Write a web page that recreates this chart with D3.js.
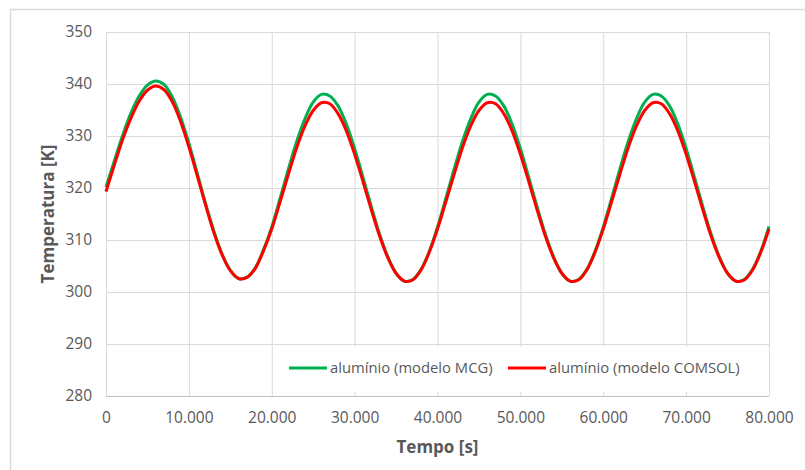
<!DOCTYPE html>
<html>
<head>
<meta charset="utf-8">
<script src="https://cdn.jsdelivr.net/npm/d3@7"></script>
<style>
  body { margin: 0; background: #fff; }
  text { font-family: "Open Sans", "Noto Sans", sans-serif; }
</style>
</head>
<body>
<div id="chart"></div>
<script>
// tempo [s]
const tempo = [
  0, 1000, 2000, 3000, 4000, 5000, 6000, 7000, 8000, 9000,
  10000, 11000, 12000, 13000, 14000, 15000, 16000, 17000, 18000, 19000,
  20000, 21000, 22000, 23000, 24000, 25000, 26000, 27000, 28000, 29000,
  30000, 31000, 32000, 33000, 34000, 35000, 36000, 37000, 38000, 39000,
  40000, 41000, 42000, 43000, 44000, 45000, 46000, 47000, 48000, 49000,
  50000, 51000, 52000, 53000, 54000, 55000, 56000, 57000, 58000, 59000,
  60000, 61000, 62000, 63000, 64000, 65000, 66000, 67000, 68000, 69000,
  70000, 71000, 72000, 73000, 74000, 75000, 76000, 77000, 78000, 79000,
  80000
];

// alumínio (modelo MCG)
const mcg = [
  320.2, 325.2, 330.1, 334.4, 337.7, 339.8, 340.6, 339.9, 337.5, 333.6,
  328.6, 322.9, 317.1, 311.8, 307.3, 304.2, 302.6, 302.8, 304.6, 308.1,
  312.5, 318.0, 323.6, 328.9, 333.3, 336.5, 338.0, 337.7, 335.8, 332.3,
  327.6, 322.1, 316.5, 311.2, 306.8, 303.6, 302.1, 302.4, 304.3, 307.8,
  312.5, 318.0, 323.6, 328.9, 333.3, 336.5, 338.0, 337.7, 335.8, 332.3,
  327.6, 322.1, 316.5, 311.2, 306.8, 303.6, 302.1, 302.4, 304.3, 307.8,
  312.5, 318.0, 323.6, 328.9, 333.3, 336.5, 338.0, 337.7, 335.8, 332.3,
  327.6, 322.1, 316.5, 311.2, 306.8, 303.6, 302.1, 302.4, 304.3, 307.8,
  312.6
];

// alumínio (modelo COMSOL)
const comsol = [
  319.3, 324.4, 329.3, 333.4, 336.7, 338.8, 339.6, 338.9, 336.6, 332.8,
  327.9, 322.4, 316.8, 311.5, 307.2, 304.1, 302.6, 302.8, 304.5, 307.9,
  312.1, 317.3, 322.6, 327.7, 331.9, 334.9, 336.4, 336.2, 334.3, 331.0,
  326.5, 321.3, 315.9, 310.8, 306.6, 303.6, 302.1, 302.3, 304.2, 307.6,
  312.1, 317.3, 322.6, 327.7, 331.9, 334.9, 336.4, 336.2, 334.3, 331.0,
  326.5, 321.3, 315.9, 310.8, 306.6, 303.6, 302.1, 302.3, 304.2, 307.6,
  312.1, 317.3, 322.6, 327.7, 331.9, 334.9, 336.4, 336.2, 334.3, 331.0,
  326.5, 321.3, 315.9, 310.8, 306.6, 303.6, 302.1, 302.3, 304.2, 307.6,
  312.1
];

const xTicks = [0, 10000, 20000, 30000, 40000, 50000, 60000, 70000, 80000];
const yTicks = [280, 290, 300, 310, 320, 330, 340, 350];

const series = [
  { name: "alumínio (modelo MCG)", values: mcg, color: "#00b050" },
  { name: "alumínio (modelo COMSOL)", values: comsol, color: "#ff0000" }
];

const width = 805;
const height = 470;
const margin = { top: 32, right: 36, bottom: 74, left: 106 };
const innerW = width - margin.left - margin.right;
const innerH = height - margin.top - margin.bottom;

// separador de milhares com ponto (10.000)
const fmt = d3.formatLocale({ decimal: ",", thousands: ".", grouping: [3], currency: ["R$", ""] }).format(",");

const svg = d3.select("#chart")
  .append("svg")
  .attr("width", width)
  .attr("height", height);

svg.append("rect").attr("width", width).attr("height", height).attr("fill", "#fff");

// borda do gráfico
svg.append("rect")
  .attr("x", 10.5).attr("y", 9.5)
  .attr("width", width).attr("height", height)
  .attr("fill", "none")
  .attr("stroke", "#d9d9d9")
  .attr("stroke-width", 1.5);

const g = svg.append("g").attr("transform", `translate(${margin.left},${margin.top})`);

const x = d3.scaleLinear().domain([0, 80000]).range([0, innerW]);
const y = d3.scaleLinear().domain([280, 350]).range([innerH, 0]);

// grelha
g.append("g")
  .call(d3.axisLeft(y).tickValues(yTicks).tickSize(-innerW).tickFormat(""))
  .call((s) => s.select(".domain").remove())
  .selectAll("line").attr("stroke", "#d9d9d9");

g.append("g")
  .attr("transform", `translate(0,${innerH})`)
  .call(d3.axisBottom(x).tickValues(xTicks).tickSize(-innerH).tickFormat(""))
  .call((s) => s.select(".domain").remove())
  .selectAll("line").attr("stroke", "#d9d9d9");

// eixo x
g.append("line")
  .attr("x1", 0).attr("x2", innerW)
  .attr("y1", innerH + 0.5).attr("y2", innerH + 0.5)
  .attr("stroke", "#bfbfbf");

const yAxis = g.append("g")
  .call(d3.axisLeft(y).tickValues(yTicks).tickSize(0).tickPadding(14).tickFormat(d3.format("d")));
yAxis.select(".domain").remove();
yAxis.selectAll("text").style("font-size", "15.5px").style("fill", "#595959")
  .style("font-family", "'Open Sans', sans-serif");

const xAxis = g.append("g")
  .attr("transform", `translate(0,${innerH})`)
  .call(d3.axisBottom(x).tickValues(xTicks).tickSize(0).tickPadding(16).tickFormat(fmt));
xAxis.select(".domain").remove();
xAxis.selectAll("text").style("font-size", "15.5px").style("fill", "#595959")
  .style("font-family", "'Open Sans', sans-serif");

// legenda (fundo branco por cima da grelha)
const legend = g.append("g");
legend.append("rect")
  .attr("x", 169).attr("y", 315)
  .attr("width", innerW - 170).attr("height", 45)
  .attr("fill", "#fff");

const line = d3.line()
  .x((d, i) => x(tempo[i]))
  .y((d) => y(d))
  .curve(d3.curveCatmullRom);

series.forEach((s) => {
  g.append("path")
    .datum(s.values)
    .attr("d", line)
    .attr("fill", "none")
    .attr("stroke", s.color)
    .attr("stroke-width", 3)
    .attr("stroke-linejoin", "round");
});

const legendX = [183, 402];
series.forEach((s, i) => {
  legend.append("line")
    .attr("x1", legendX[i]).attr("x2", legendX[i] + 38)
    .attr("y1", 336).attr("y2", 336)
    .attr("stroke", s.color)
    .attr("stroke-width", 3);
  legend.append("text")
    .attr("x", legendX[i] + 41).attr("y", 341)
    .text(s.name)
    .style("font-size", "14.8px")
    .style("fill", "#595959");
});

// títulos dos eixos
svg.append("text")
  .attr("x", margin.left + innerW / 2)
  .attr("y", 453)
  .attr("text-anchor", "middle")
  .text("Tempo [s]")
  .style("font-size", "17px")
  .style("font-weight", "bold")
  .style("fill", "#595959");

svg.append("text")
  .attr("transform", `translate(54,${margin.top + innerH / 2}) rotate(-90)`)
  .attr("text-anchor", "middle")
  .text("Temperatura [K]")
  .style("font-size", "17px")
  .style("font-weight", "bold")
  .style("fill", "#595959");
</script>
</body>
</html>
